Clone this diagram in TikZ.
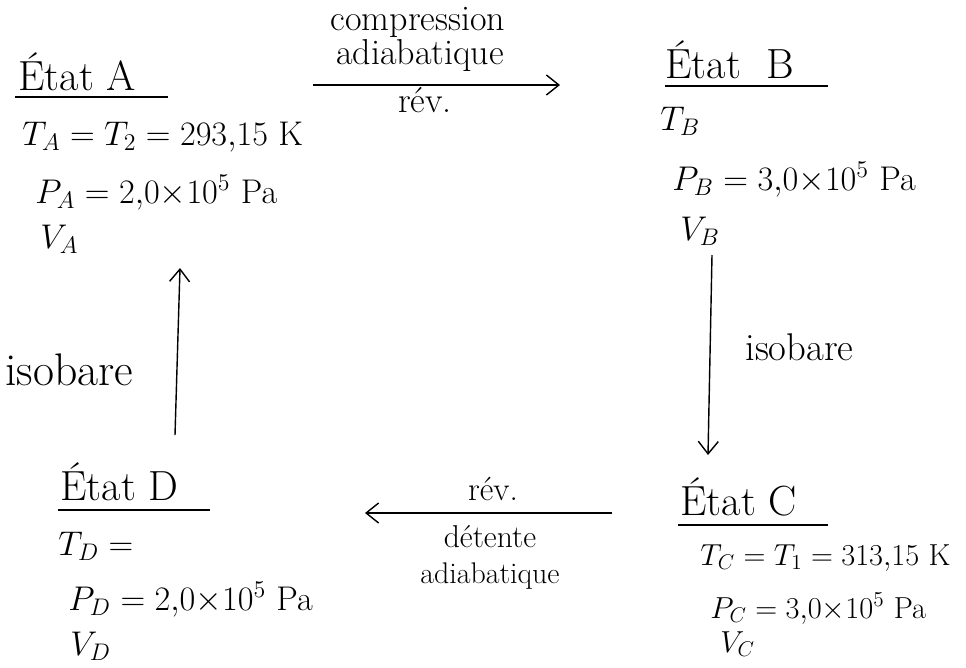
\RequirePackage{fix-cm}
\documentclass[tikz,border=0pt]{standalone}
\usepackage{tikz}
\usetikzlibrary{arrows.meta, positioning}
\tikzset{
  etat/.style={anchor=base west, inner sep=0pt, font=\fontsize{24}{28}\selectfont},
  valeur/.style={anchor=base west, inner sep=0pt, font=\fontsize{19.5}{23}\selectfont},
  petit/.style={valeur, font=\fontsize{17.3}{21}\selectfont},
  legende/.style={anchor=base, inner sep=0pt, font=\fontsize{20.5}{24}\selectfont},
  souligne/.style={line width=0.9pt},
  transfo/.style={-{Straight Barb[length=2.5mm,width=4mm]}, line width=0.8pt}
}

\begin{document}
\begin{tikzpicture}[x=0.02cm, y=-0.02cm]
  \useasboundingbox (0,0) rectangle (966,667);

  % etat A
  \node[etat] (etatA) at (18,90) {État A};
  \draw[souligne] (15,97) -- (168,97);
  \node[valeur] (TA) at (22,145) {$T_A = T_2 = 293{,}15$ K};
  \node[valeur] (PA) at (35,203) {$P_A = 2{,}0{\times}10^5$ Pa};
  \node[valeur] (VA) at (40,248) {$V_A$};

  % etat B
  \node[etat] (etatB) at (665,78) {État\ \ B};
  \draw[souligne] (665,86) -- (828,86);
  \node[valeur] (TB) at (660,130) {$T_B$};
  \node[valeur] (PB) at (672,190) {$P_B = 3{,}0{\times}10^5$ Pa};
  \node[valeur] (VB) at (680,240) {$V_B$};

  % etat C
  \node[etat] (etatC) at (680,515) {État C};
  \draw[souligne] (678,525) -- (828,525);
  \node[petit] (TC) at (700,565) {$T_C = T_1 = 313{,}15$ K};
  \node[petit] (PC) at (710,618) {$P_C = 3{,}0{\times}10^5$ Pa};
  \node[petit] (VC) at (720,652) {$V_C$};

  % etat D
  \node[etat] (etatD) at (60,500) {État D};
  \draw[souligne] (58,510) -- (210,510);
  \node[valeur] (TD) at (58,555) {$T_D =$};
  \node[valeur] (PD) at (68,610) {$P_D = 2{,}0{\times}10^5$ Pa};
  \node[valeur] (VD) at (70,655) {$V_D$};

  % transformations
  \coordinate (ab1) at (313,85);
  \coordinate (ab2) at (560,85);
  \coordinate (bc1) at (712,255);
  \coordinate (bc2) at (708,455);
  \coordinate (cd1) at (612,513);
  \coordinate (cd2) at (365,513);
  \coordinate (da1) at (175,435);
  \coordinate (da2) at (180,268);

  \draw[transfo] (ab1) -- (ab2);
  \node[legende] (comp) at (418,30) {compression};
  \node[legende] (adiaAB) at (420,64) {adiabatique};
  \node[legende] (revAB) at (425,112) {rév.};

  \draw[transfo] (bc1) -- (bc2);
  \node[legende, anchor=base west, font=\fontsize{22}{26}\selectfont] (isoB) at (745,360) {isobare};

  \draw[transfo] (cd1) -- (cd2);
  \node[legende, font=\fontsize{19}{22}\selectfont] (revCD) at (493,500) {rév.};
  \node[legende, font=\fontsize{18}{21}\selectfont] (detente) at (490,547) {détente};
  \node[legende, font=\fontsize{17}{20}\selectfont] (adiaCD) at (490,583) {adiabatique};

  \draw[transfo] (da1) -- (da2);
  \node[legende, anchor=base west, font=\fontsize{26}{30}\selectfont] (isoD) at (5,385) {isobare};
\end{tikzpicture}
\end{document}
